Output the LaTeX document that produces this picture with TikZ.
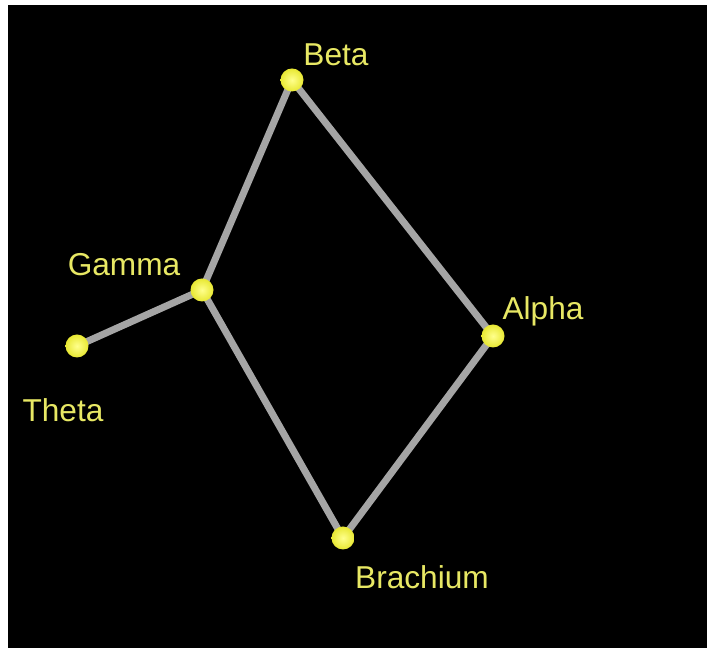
\documentclass[tikz,border=0pt]{standalone}
\usepackage{fontspec}
\setmainfont{Liberation Sans}
\usetikzlibrary{backgrounds}
\definecolor{starlight}{RGB}{255,255,140}
\definecolor{staryellow}{RGB}{232,232,50}
\definecolor{lblyellow}{RGB}{232,232,100}
\definecolor{linkgray}{RGB}{165,165,165}
\tikzset{
    star/.style={circle, shading=radial, inner color=starlight, outer color=staryellow, minimum size=0.46cm, inner sep=0pt},
    starname/.style={font=\fontsize{18}{20}\selectfont, text=lblyellow, inner sep=0pt},
    link/.style={draw=linkgray, line width=0.14cm, line cap=round}
}
\begin{document}
\begin{tikzpicture}
    \useasboundingbox (0,0) rectangle (14.14,12.96);

    % stars
    \node[star] (beta) at (5.84, 11.36) {};
    \node[star] (gamma) at (4.04, 7.16) {};
    \node[star] (theta) at (1.54, 6.04) {};
    \node[star] (alpha) at (9.86, 6.24) {};
    \node[star] (brachium) at (6.86, 2.20) {};

    % names
    \node[starname] (betaname) at (6.72, 11.86) {Beta};
    \node[starname] (gammaname) at (2.48, 7.66) {Gamma};
    \node[starname] (thetaname) at (1.26, 4.76) {Theta};
    \node[starname] (alphaname) at (10.86, 6.74) {Alpha};
    \node[starname] (brachiumname) at (8.44, 1.42) {Brachium};

    % frame and links behind the stars
    \begin{scope}[on background layer]
        \fill[white] (0,0) rectangle (14.14,12.96);
        \fill[black] (0.16,0) rectangle (14.14,12.86);
        \draw[link] (theta.center) -- (gamma.center);
        \draw[link] (gamma.center) -- (beta.center);
        \draw[link] (beta.center) -- (alpha.center);
        \draw[link] (alpha.center) -- (brachium.center);
        \draw[link] (brachium.center) -- (gamma.center);
    \end{scope}
\end{tikzpicture}
\end{document}
